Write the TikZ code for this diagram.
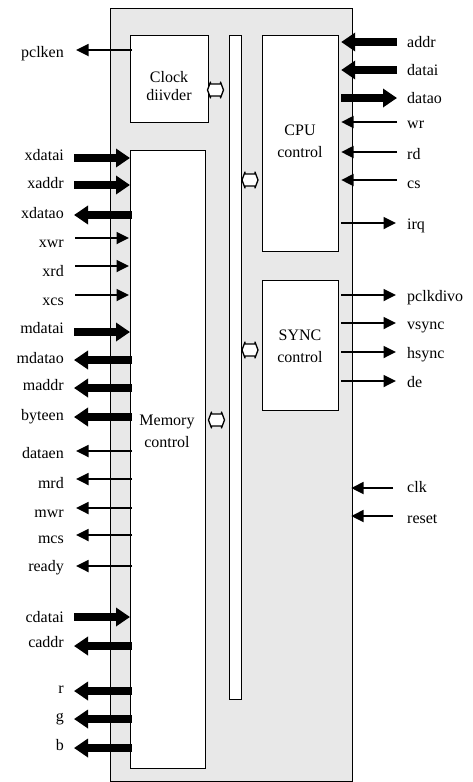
\documentclass[tikz,border=0pt]{standalone}
\usepackage{fontspec}
\setmainfont{Liberation Serif}
\usetikzlibrary{arrows.meta}
\definecolor{bggray}{HTML}{E8E8E8}
\newcommand\busmark[2]{\draw[bussym] (#1,#2) -- ++(3,-8) -- ++(0,2) -- ++(10,0) -- ++(0,-2) -- ++(3,8) -- ++(-3,8) -- ++(0,-2) -- ++(-10,0) -- ++(0,2) -- cycle;}
\begin{document}
\begin{tikzpicture}[x=1pt,y=-1pt,
  blk/.style={draw, line width=1.2pt, fill=white, inner sep=0pt, anchor=north west},
  txt/.style={inner sep=0pt, font=\fontsize{16}{19}\selectfont},
  lbll/.style={txt, anchor=base east},
  lblr/.style={txt, anchor=base west},
  btxt/.style={txt, anchor=base},
  thickarr/.style={line width=7.5pt, -{Triangle[length=14pt,width=18pt]}},
  thinarr/.style={line width=1.8pt, -{Triangle[length=12.5pt,width=12pt]}},
  bussym/.style={draw, line width=1.3pt, fill=white, line join=round}
]
\useasboundingbox (0,0) rectangle (473,782);
% outer box
\node[blk, fill=bggray, minimum width=242pt, minimum height=773pt] (outer) at (110,8) {};
% blocks
\node[blk, minimum width=78pt, minimum height=87pt] (clock) at (130,35) {};
\node[blk, minimum width=75pt, minimum height=618pt] (mem) at (130,150) {};
\node[blk, minimum width=12pt, minimum height=664pt] (bus) at (229,35) {};
\node[blk, minimum width=76pt, minimum height=216pt] (cpu) at (262,35) {};
\node[blk, minimum width=76pt, minimum height=130pt] (sync) at (262,280) {};
% block texts
\node[btxt] (clockA) at (169,82) {Clock};
\node[btxt] (clockB) at (169,100) {diivder};
\node[btxt] (memA) at (167,425) {Memory};
\node[btxt] (memB) at (167,447) {control};
\node[btxt] (cpuA) at (300,135) {CPU};
\node[btxt] (cpuB) at (300,157) {control};
\node[btxt] (syncA) at (300,340) {SYNC};
\node[btxt] (syncB) at (300,362) {control};
% bus symbols
\busmark{207.5}{90}
\busmark{242}{180}
\busmark{242}{350}
\busmark{208.5}{420}
% pclken
\node[lbll] (l-pclken) at (64,57) {pclken};
\coordinate (e-pclken) at (76,50);
\draw[thinarr] ([xshift=2pt]clock.west |- e-pclken) -- (e-pclken);
% left thick inputs
\foreach \nm/\ay/\by in {xdatai/158/160, xaddr/185/188, mdatai/332/333, cdatai/617/622}{
  \node[lbll] (l-\nm) at (64,\by) {\nm};
  \coordinate (e-\nm) at (74,\ay);
  \draw[thickarr] (e-\nm) -- (mem.west |- e-\nm);
}
% left thick outputs
\foreach \nm/\ay/\by in {xdatao/215/218, mdatao/360/363, maddr/388/390, byteen/417/420, caddr/646/647, r/691/693, g/719/721, b/748/750}{
  \node[lbll] (l-\nm) at (64,\by) {\nm};
  \coordinate (e-\nm) at (74,\ay);
  \draw[thickarr] ([xshift=2pt]mem.west |- e-\nm) -- (e-\nm);
}
% left thin inputs
\foreach \nm/\ay/\by in {xwr/238/247, xrd/266/276, xcs/295/305}{
  \node[lbll] (l-\nm) at (64,\by) {\nm};
  \coordinate (e-\nm) at (75,\ay);
  \draw[thinarr] (e-\nm) -- ([xshift=-1pt]mem.west |- e-\nm);
}
% left thin outputs
\foreach \nm/\ay/\by in {dataen/451/458, mrd/479/488, mwr/508/517, mcs/535/543, ready/566/571}{
  \node[lbll] (l-\nm) at (64,\by) {\nm};
  \coordinate (e-\nm) at (76,\ay);
  \draw[thinarr] ([xshift=2pt]mem.west |- e-\nm) -- (e-\nm);
}
% right thick inputs
\foreach \nm/\ay/\by in {addr/42/47, datai/70/75}{
  \node[lblr] (l-\nm) at (407,\by) {\nm};
  \coordinate (e-\nm) at (397,\ay);
  \draw[thickarr] (e-\nm) -- ([xshift=2pt]cpu.east |- e-\nm);
}
% right thick output
\foreach \nm/\ay/\by in {datao/98/103}{
  \node[lblr] (l-\nm) at (407,\by) {\nm};
  \coordinate (e-\nm) at (397,\ay);
  \draw[thickarr] ([xshift=2pt]cpu.east |- e-\nm) -- (e-\nm);
}
% right thin inputs (cpu)
\foreach \nm/\ay/\by in {wr/122/128, rd/152/159, cs/180/188}{
  \node[lblr] (l-\nm) at (407,\by) {\nm};
  \coordinate (e-\nm) at (397,\ay);
  \draw[thinarr] (e-\nm) -- ([xshift=2pt]cpu.east |- e-\nm);
}
% right thin output (cpu)
\node[lblr] (l-irq) at (407,229) {irq};
\coordinate (e-irq) at (396,223);
\draw[thinarr] ([xshift=2pt]cpu.east |- e-irq) -- (e-irq);
% right thin outputs (sync)
\foreach \nm/\ay/\by in {pclkdivo/295/301, vsync/323/329, hsync/352/358, de/381/387}{
  \node[lblr] (l-\nm) at (407,\by) {\nm};
  \coordinate (e-\nm) at (396,\ay);
  \draw[thinarr] ([xshift=2pt]sync.east |- e-\nm) -- (e-\nm);
}
% clk, reset
\foreach \nm/\ay/\by in {clk/488/492, reset/516/523}{
  \node[lblr] (l-\nm) at (407,\by) {\nm};
  \coordinate (e-\nm) at (393,\ay);
  \draw[thinarr] (e-\nm) -- ([xshift=-2pt]outer.east |- e-\nm);
}
\end{tikzpicture}
\end{document}
